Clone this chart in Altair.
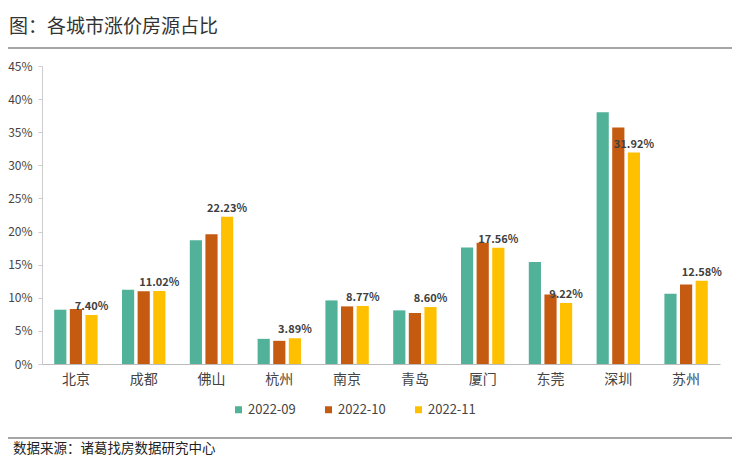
import altair as alt
import pandas as pd

cities = ["北京", "成都", "佛山", "杭州", "南京", "青岛", "厦门", "东莞", "深圳", "苏州"]
months = ["2022-09", "2022-10", "2022-11"]
v_2022_09 = [8.2, 11.2, 18.7, 3.8, 9.6, 8.1, 17.6, 15.4, 38.0, 10.6]
v_2022_10 = [8.3, 11.0, 19.6, 3.5, 8.7, 7.7, 18.3, 10.5, 35.7, 12.0]
v_2022_11 = [7.40, 11.02, 22.23, 3.89, 8.77, 8.60, 17.56, 9.22, 31.92, 12.58]
colors = ["#52B199", "#C55A11", "#FFC000"]
y_ticks = [0, 5, 10, 15, 20, 25, 30, 35, 40, 45]

title_text = "图：各城市涨价房源占比"
source_text = "数据来源：诸葛找房数据研究中心"

rows = []
for m, vals in zip(months, [v_2022_09, v_2022_10, v_2022_11]):
    for c, v in zip(cities, vals):
        rows.append({"city": c, "month": m, "value": v})
df = pd.DataFrame(rows)
lab = df[df["month"] == "2022-11"].copy()
lab["label"] = [f"{v:.2f}%" for v in lab["value"]]

FONT = "Noto Sans CJK SC"

x = alt.X("city:N", sort=cities, title=None,
          scale=alt.Scale(paddingInner=0.36, paddingOuter=0.18),
          axis=alt.Axis(labelAngle=0, labelFontSize=14, labelColor="#444",
                        labelFont=FONT, ticks=False, domainColor="#bbb",
                        labelPadding=8))
y = alt.Y("value:Q", title=None,
          scale=alt.Scale(domain=[0, 45]),
          axis=alt.Axis(values=y_ticks, labelExpr="datum.value + '%'",
                        grid=False, labelFontSize=12, labelColor="#444",
                        labelFont=FONT, domainColor="#ccc", tickColor="#ccc",
                        tickSize=4, labelPadding=6, labelOverlap=False))
xo = alt.XOffset("month:N", sort=months,
                 scale=alt.Scale(paddingInner=0.22, paddingOuter=0))

bars = alt.Chart(df).mark_bar().encode(
    x=x,
    xOffset=xo,
    y=y,
    color=alt.Color("month:N", sort=months,
                    scale=alt.Scale(domain=months, range=colors),
                    legend=alt.Legend(title=None, orient="none", direction="horizontal",
                                      legendX=190, legendY=337,
                                      symbolType="square", symbolSize=49,
                                      labelFontSize=13, labelColor="#444",
                                      labelFont=FONT, columnPadding=26,
                                      labelOffset=3)),
)

labels = alt.Chart(lab).mark_text(dy=-8, fontSize=11, fontWeight="bold",
                                  color="#404040", font=FONT).encode(
    x=x,
    xOffset=xo,
    y=y,
    text="label:N",
)

title = alt.Chart(pd.DataFrame({"t": [title_text]})).mark_text(
    align="left", baseline="middle", fontSize=19, color="#333", font=FONT
).encode(x=alt.value(-33), y=alt.value(-39), text="t:N")

source = alt.Chart(pd.DataFrame({"t": [source_text]})).mark_text(
    align="left", baseline="middle", fontSize=13.5, color="#222", font=FONT
).encode(x=alt.value(-29), y=alt.value(383), text="t:N")

top_line = alt.Chart(pd.DataFrame({"a": [0]})).mark_rule(
    color="#888", strokeWidth=1.5
).encode(x=alt.value(-42), x2=alt.value(698), y=alt.value(-18))

bottom_line = alt.Chart(pd.DataFrame({"a": [0]})).mark_rule(
    color="#888", strokeWidth=1.5
).encode(x=alt.value(-42), x2=alt.value(698), y=alt.value(372))

chart = alt.layer(bars, labels, title, source, top_line, bottom_line).properties(
    width=678, height=298,
    background="white",
    autosize=alt.AutoSizeParams(type="none"),
    padding={"left": 34, "top": 58, "right": 12, "bottom": 92},
).configure_view(stroke=None)

chart.save("out.html", embed_options={"renderer": "svg", "actions": False})
